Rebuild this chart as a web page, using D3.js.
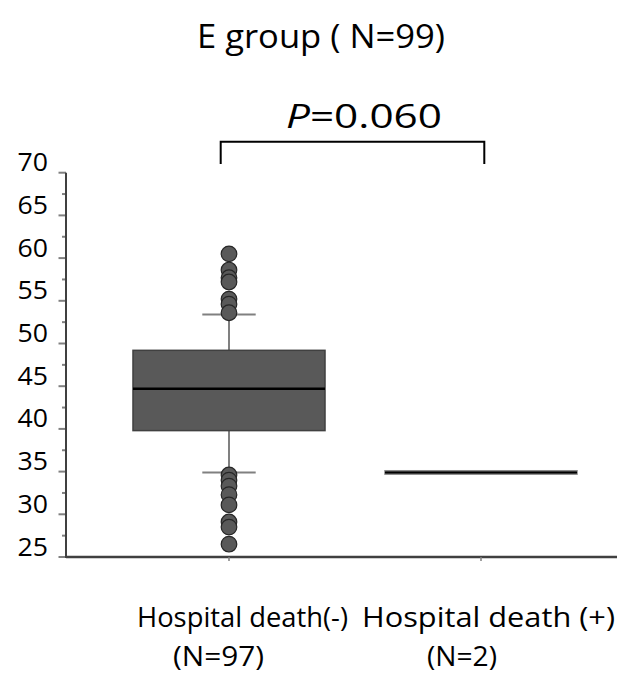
<!DOCTYPE html>
<html><head><meta charset="utf-8">
<script src="https://cdn.jsdelivr.net/npm/d3@7/dist/d3.min.js"></script>
<style>body{margin:0;background:#fff;} svg{display:block;}</style>
</head><body>
<script>
const categories = ["Hospital death(-)", "Hospital death (+)"];
const nLabels = ["(N=97)", "(N=2)"];
const q1 = [39.8, 34.7];
const medians = [44.7, 34.9];
const q3 = [49.2, 35.1];
const whiskerLow = [34.9, null];
const whiskerHigh = [53.4, null];
const outliersGroup1 = [60.5, 58.6, 57.7, 57.2, 55.2, 54.6, 53.6, 34.6, 34.0, 33.3, 32.3, 31.1, 29.1, 28.5, 26.5];
const yTicks = [25, 30, 35, 40, 45, 50, 55, 60, 65, 70];
const minorTicks = [27.5, 32.5, 37.5, 42.5, 47.5, 52.5, 57.5, 62.5, 67.5];
const title = "E group ( N=99)";
const pValue = "0.060";

const W = 629, H = 679;
const font = "'Open Sans', sans-serif";
const svg = d3.select("body").append("svg").attr("width", W).attr("height", H);

function stretch(sel, target) {
  sel.attr("textLength", target).attr("lengthAdjust", "spacingAndGlyphs");
}

const y = d3.scaleLinear().domain([25, 70]).range([557, 172.7]);
const x = d3.scaleBand().domain(categories).range([103, 607]).paddingInner(0.238).paddingOuter(0.119);
const cx = c => x(c) + x.bandwidth() / 2;
const axisX0 = 66, axisX1 = 617;

// title
const tt = svg.append("text").attr("x", 321).attr("y", 48).attr("text-anchor", "middle")
  .attr("font-family", font).attr("font-size", 33.5).attr("fill", "#000").text(title);
stretch(tt, 248);

// p value
const pt = svg.append("text").attr("x", 364).attr("y", 128).attr("text-anchor", "middle")
  .attr("font-family", font).attr("font-size", 33.5).attr("fill", "#000");
pt.append("tspan").attr("font-style", "italic").text("P");
pt.append("tspan").text("=" + pValue);
stretch(pt, 156);

// bracket
svg.append("path").attr("d", `M220.7,164V141.7H484.3V164`).attr("fill", "none")
  .attr("stroke", "#000").attr("stroke-width", 2);

// y axis
const yAxis = svg.append("g");
yAxis.selectAll("line.major").data(yTicks).join("line")
  .attr("x1", axisX0 - 7.5).attr("x2", axisX0).attr("y1", d => y(d)).attr("y2", d => y(d))
  .attr("stroke", "#808080").attr("stroke-width", 2);
yAxis.selectAll("line.minor").data(minorTicks).join("line")
  .attr("x1", axisX0 - 4).attr("x2", axisX0).attr("y1", d => y(d)).attr("y2", d => y(d))
  .attr("stroke", "#808080").attr("stroke-width", 2);
const yl = yAxis.selectAll("text").data(yTicks).join("text")
  .attr("x", 48).attr("y", d => y(d) - 1.5).attr("text-anchor", "end")
  .attr("font-family", font).attr("font-size", 25).attr("fill", "#000").text(d => d);
yl.each(function() { stretch(d3.select(this), 30.5); });
yAxis.append("line").attr("x1", axisX0).attr("x2", axisX0).attr("y1", y(70)).attr("y2", y(25) + 1)
  .attr("stroke", "#404040").attr("stroke-width", 2);

// x axis
svg.append("line").attr("x1", axisX0).attr("x2", axisX1).attr("y1", y(25)).attr("y2", y(25))
  .attr("stroke", "#404040").attr("stroke-width", 2.5);
svg.selectAll("line.xt").data(categories).join("line")
  .attr("x1", d => cx(d)).attr("x2", d => cx(d)).attr("y1", y(25)).attr("y2", y(25) + 4)
  .attr("stroke", "#808080").attr("stroke-width", 1.5);

// whiskers
const capHalf = 26.7;
categories.forEach((c, i) => {
  if (whiskerLow[i] == null) return;
  const g = svg.append("g").attr("stroke", "#808080").attr("stroke-width", 2);
  g.append("line").attr("x1", cx(c)).attr("x2", cx(c)).attr("y1", y(whiskerHigh[i])).attr("y2", y(q3[i]));
  g.append("line").attr("x1", cx(c)).attr("x2", cx(c)).attr("y1", y(q1[i])).attr("y2", y(whiskerLow[i]));
  g.append("line").attr("x1", cx(c) - capHalf).attr("x2", cx(c) + capHalf).attr("y1", y(whiskerHigh[i])).attr("y2", y(whiskerHigh[i]));
  g.append("line").attr("x1", cx(c) - capHalf).attr("x2", cx(c) + capHalf).attr("y1", y(whiskerLow[i])).attr("y2", y(whiskerLow[i]));
});

// boxes
categories.forEach((c, i) => {
  svg.append("rect").attr("x", x(c)).attr("width", x.bandwidth())
    .attr("y", y(q3[i])).attr("height", y(q1[i]) - y(q3[i]))
    .attr("fill", "#595959").attr("stroke", i === 0 ? "#404040" : "#8a8a8a").attr("stroke-width", 1.5);
  svg.append("line").attr("x1", x(c)).attr("x2", x(c) + x.bandwidth())
    .attr("y1", y(medians[i])).attr("y2", y(medians[i]))
    .attr("stroke", "#000").attr("stroke-width", i === 0 ? 2.5 : 2);
});

// outliers
svg.selectAll("circle").data(outliersGroup1).join("circle")
  .attr("cx", cx(categories[0])).attr("cy", d => y(d)).attr("r", 7.8)
  .attr("fill", "#595959").attr("stroke", "#262626").attr("stroke-width", 1.2);

// x labels
const lineCenters = [[242.5, 218.5], [488.5, 462]];
const lineWidths = [[211, 91], [253, 70]];
const xlSize = 27.5;
categories.forEach((c, i) => {
  const a = svg.append("text").attr("x", lineCenters[i][0]).attr("y", 627).attr("text-anchor", "middle")
    .attr("font-family", font).attr("font-size", xlSize).attr("fill", "#000").text(c);
  stretch(a, lineWidths[i][0]);
  const b = svg.append("text").attr("x", lineCenters[i][1]).attr("y", 666).attr("text-anchor", "middle")
    .attr("font-family", font).attr("font-size", xlSize).attr("fill", "#000").text(nLabels[i]);
  stretch(b, lineWidths[i][1]);
});
</script>
</body></html>
